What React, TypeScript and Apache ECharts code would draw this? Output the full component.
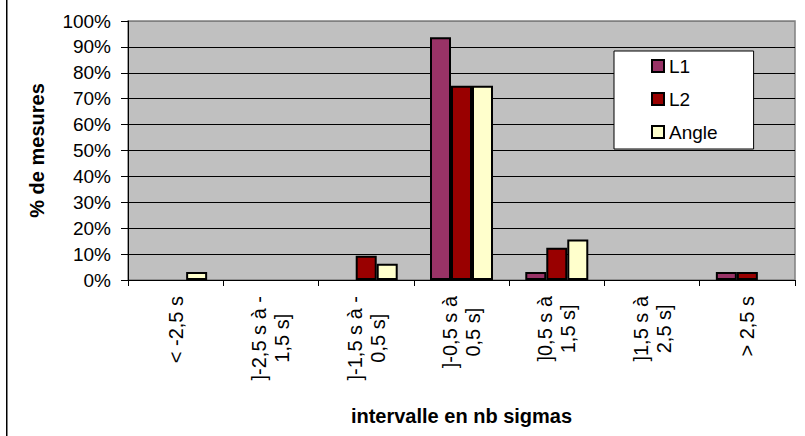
import React, { useEffect, useRef } from "react";
import * as echarts from "echarts";

const categories: string[] = [
  "< -2,5 s",
  "]-2,5 s à -\n1,5 s]",
  "]-1,5 s à -\n0,5 s]",
  "]-0,5 s à\n0,5 s]",
  "]0,5 s à\n1,5 s]",
  "]1,5 s à\n2,5 s]",
  "> 2,5 s",
];

const seriesNames: string[] = ["L1", "L2", "Angle"];
const l1Values: number[] = [0, 0, 0, 93.75, 3.125, 0, 3.125];
const l2Values: number[] = [0, 0, 9.375, 75, 12.5, 0, 3.125];
const angleValues: number[] = [3.125, 0, 6.25, 75, 15.625, 0, 0];
const yTicks: number[] = [0, 10, 20, 30, 40, 50, 60, 70, 80, 90, 100];

const colors = ["#993366", "#990000", "#FFFFCC"];
const FONT = '"Liberation Sans", Arial, sans-serif';
const LABEL_SIZE = 20;

export default function App() {
  const ref = useRef<HTMLDivElement>(null);
  useEffect(() => {
    if (!ref.current) return;
    const chart = echarts.init(ref.current, undefined, { renderer: "svg" });
    const all = [l1Values, l2Values, angleValues];
    const gridColors = yTicks.map((_, i) => (i === yTicks.length - 1 ? "#808080" : "#000000"));
    const border = {
      id: "leftBorder",
      type: "line",
      shape: { x1: 6.75, y1: 0, x2: 6.75, y2: 436 },
      style: { stroke: "#000", lineWidth: 1.5 },
      z: 100,
    };
    chart.setOption({
      animation: false,
      backgroundColor: "#ffffff",
      textStyle: { fontFamily: FONT },
      graphic: [border],
      grid: {
        left: 128,
        right: 10,
        top: 21,
        bottom: 156,
        show: true,
        backgroundColor: "#C0C0C0",
        borderColor: "#808080",
        borderWidth: 1.5,
      },
      legend: {
        orient: "vertical",
        left: 614,
        top: 51,
        data: seriesNames,
        icon: "rect",
        itemWidth: 12,
        itemHeight: 12,
        itemGap: 13,
        backgroundColor: "#ffffff",
        borderColor: "#000000",
        borderWidth: 1,
        borderRadius: 0,
        padding: [5, 36, 7, 37],
        textStyle: { fontFamily: FONT, fontSize: 19, color: "#000", lineHeight: 20 },
      },
      xAxis: {
        type: "category",
        data: categories,
        name: "intervalle en nb sigmas",
        nameLocation: "middle",
        nameGap: 126,
        nameTextStyle: { fontFamily: FONT, fontSize: 20, fontWeight: "bold", color: "#000" },
        axisLine: { lineStyle: { color: "#000", width: 1 } },
        axisTick: { show: true, length: 6, lineStyle: { color: "#000" } },
        axisLabel: { show: false, interval: 0 },
        splitLine: { show: false },
      },
      yAxis: {
        type: "value",
        min: 0,
        max: 100,
        interval: 10,
        name: "% de mesures",
        nameLocation: "middle",
        nameGap: 81,
        nameTextStyle: { fontFamily: FONT, fontSize: 20, fontWeight: "bold", color: "#000" },
        axisLine: { show: true, lineStyle: { color: "#000", width: 1 } },
        axisTick: { show: true, length: 7, lineStyle: { color: "#000" } },
        axisLabel: {
          margin: 17,
          color: "#000",
          fontFamily: FONT,
          fontSize: 19,
          formatter: (v: number) => v + "%",
        },
        splitLine: { show: true, lineStyle: { color: gridColors, width: 1 } },
      },
      series: seriesNames.map((name, i) => ({
        name,
        type: "bar",
        barWidth: 21,
        barGap: "0%",
        data: all[i].map((v) => (v === 0 ? null : v)),
        itemStyle: { color: colors[i], borderColor: "#000", borderWidth: 2 },
      })),
    });

    // Category labels, rotated, top-anchored below the axis with centred lines
    const canvas = document.createElement("canvas");
    const ctx = canvas.getContext("2d");
    if (ctx) ctx.font = LABEL_SIZE + 'px "Liberation Sans", Arial, sans-serif';
    const axisY = chart.convertToPixel({ yAxisIndex: 0 }, 0) as number;
    const top = axisY + 16;
    const labels = categories.map((c, i) => {
      const cx = chart.convertToPixel({ xAxisIndex: 0 }, i) as number;
      const lines = c.split("\n");
      const w = Math.max(...lines.map((l) => (ctx ? ctx.measureText(l).width : l.length * 10)));
      return {
        id: "xl" + i,
        type: "text",
        x: cx,
        y: top + w / 2,
        rotation: Math.PI / 2,
        silent: true,
        style: {
          text: c,
          fontSize: LABEL_SIZE,
          fontFamily: FONT,
          fill: "#000",
          align: "center",
          verticalAlign: "middle",
          lineHeight: 23,
        },
      };
    });
    chart.setOption({ graphic: [border, ...labels] });
    return () => chart.dispose();
  }, []);
  return (
    <div
      ref={ref}
      style={{ position: "fixed", left: 0, top: 0, width: 805, height: 436 }}
    />
  );
}
